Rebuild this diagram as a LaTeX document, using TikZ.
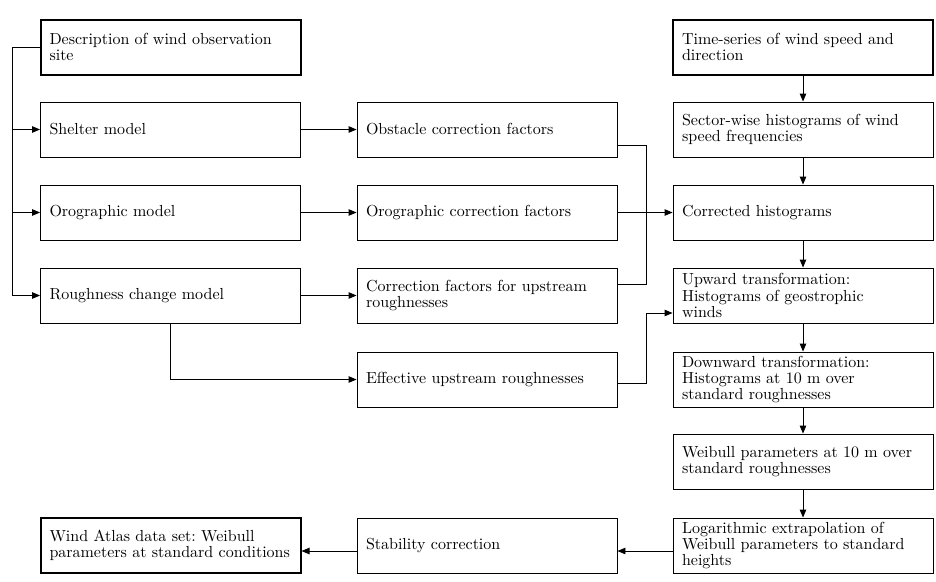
\documentclass[tikz,border=0pt]{standalone}
\usetikzlibrary{arrows.meta,calc}
% 10pt design of Latin Modern, enlarged, for the box labels
\font\boxfont="[lmroman10-regular]" at 16pt
\newcommand\labelfont{\boxfont\frenchspacing\baselineskip=16.3pt\relax}
\begin{document}
\begin{tikzpicture}[x=1pt,y=-1pt,
  box/.style={draw, line width=0.9pt, minimum width=260pt, minimum height=55pt,
    text width=242pt, inner xsep=9pt, inner ysep=2pt, align=left,
    font=\labelfont},
  inbox/.style={box, line width=2pt},
  link/.style={line width=0.9pt},
  arr/.style={link, -{Triangle[length=8pt,width=6.5pt]}}]
\useasboundingbox (0,0) rectangle (936,581);

% left column: site description and flow models
\node[inbox] (desc)     at (170.5,47)    {Description of wind observation\\site};
\node[box]   (shelter)  at (170.5,129.5) {Shelter model};
\node[box]   (oromodel) at (170.5,212.5) {Orographic model};
\node[box]   (rough)    at (170.5,295.5) {Roughness change model};
\node[inbox] (atlas)    at (170.5,545.5) {Wind Atlas data set: Weibull\\parameters at standard conditions};

% middle column: correction factors
\node[box] (obst)     at (487,129.5) {Obstacle correction factors};
\node[box] (orofac)   at (487,212.5) {Orographic correction factors};
\node[box] (upfac)    at (487,295.5) {Correction factors for upstream\\roughnesses};
\node[box] (effrough) at (487,379.5) {Effective upstream roughnesses};
\node[box] (stab)     at (487,545.5) {Stability correction};

% right column: wind data processing chain
\node[inbox] (series)   at (803,47)    {Time-series of wind speed and\\direction};
\node[box]   (sector)   at (803,129.5) {Sector-wise histograms of wind\\speed frequencies};
\node[box]   (corr)     at (803,212.5) {Corrected histograms};
\node[box]   (upward)   at (803,295.5) {Upward transformation:\\Histograms of geostrophic\\winds};
\node[box]   (downward) at (803,379.5) {Downward transformation:\\Histograms at 10 m over\\standard roughnesses};
\node[box]   (weib)     at (803,461.5) {Weibull parameters at 10 m over\\standard roughnesses};
\node[box]   (logex)    at (803,545.5) {Logarithmic extrapolation of\\Weibull parameters to standard\\heights};

% site description feeds the three models
\coordinate (rail) at (12,0);
\draw[arr] (desc.west) -- (rail |- desc.west) |- (rough.west);
\draw[arr] (rail |- shelter.west) -- (shelter.west);
\draw[arr] (rail |- oromodel.west) -- (oromodel.west);

% models to correction factors
\draw[arr] (shelter.east) -- (obst.west);
\draw[arr] (oromodel.east) -- (orofac.west);
\draw[arr] (rough.east) -- (upfac.west);
\draw[arr] (rough.south) |- (effrough.west);

% correction factors gathered into the corrected histograms
\coordinate (bus) at (646,0);
\draw[link] ($(obst.east)+(0,15.5)$) -| ($(bus |- upfac.east)+(0,-11.5)$) -- ($(upfac.east)+(0,-11.5)$);
\draw[arr] (orofac.east) -- (corr.west);
\draw[arr] ($(effrough.east)+(0,3.5)$) -| ($(bus |- upward.west)+(0,17.5)$) -- ($(upward.west)+(0,17.5)$);

% processing chain
\foreach \a/\b in {series/sector, sector/corr, corr/upward, upward/downward, downward/weib, weib/logex}
  \draw[arr] (\a.south) -- (\b.north);

% bottom row, right to left
\draw[arr] ($(logex.west)+(0,5.5)$) -- ($(stab.east)+(0,5.5)$);
\draw[arr] ($(stab.west)+(0,5.5)$) -- ($(atlas.east)+(0,5.5)$);
\end{tikzpicture}
\end{document}
